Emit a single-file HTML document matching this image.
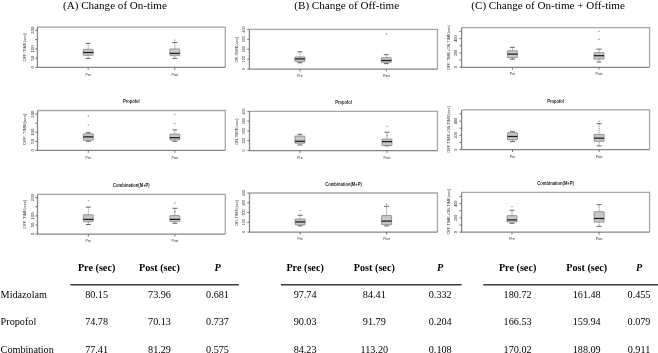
<!DOCTYPE html><html><head><meta charset="utf-8"><style>html,body{margin:0;padding:0;background:#fff;width:658px;height:353px;overflow:hidden}svg{display:block;will-change:transform}</style></head><body>
<svg width="658" height="353" viewBox="0 0 658 353">
<rect width="658" height="353" fill="#fff"/>
<text x="63.0" y="8.9" font-family='"Liberation Serif", serif' font-size="11.1" fill="#000">(A) Change of On-time</text>
<text x="294.3" y="8.9" font-family='"Liberation Serif", serif' font-size="11.1" fill="#000">(B) Change of Off-time</text>
<text x="471.3" y="8.9" font-family='"Liberation Serif", serif' font-size="11.1" fill="#000">(C) Change of On-time + Off-time</text>
<path d="M37.4 27.1H225.3V67.4" fill="none" stroke="#a6a6a6" stroke-width="1.3"/>
<path d="M37.4 27.1V67.4H225.3" fill="none" stroke="#858585" stroke-width="1.25"/>
<line x1="35.20" y1="67.40" x2="37.4" y2="67.40" stroke="#666" stroke-width="0.9"/>
<text transform="translate(32.10,67.40) rotate(-90)" text-anchor="middle" dominant-baseline="central" font-family='"Liberation Sans", sans-serif' font-size="4.3" fill="#2a2a2a">0</text>
<line x1="35.20" y1="58.13" x2="37.4" y2="58.13" stroke="#666" stroke-width="0.9"/>
<text transform="translate(32.10,58.13) rotate(-90)" text-anchor="middle" dominant-baseline="central" font-family='"Liberation Sans", sans-serif' font-size="4.3" fill="#2a2a2a">50</text>
<line x1="35.20" y1="48.85" x2="37.4" y2="48.85" stroke="#666" stroke-width="0.9"/>
<text transform="translate(32.10,48.85) rotate(-90)" text-anchor="middle" dominant-baseline="central" font-family='"Liberation Sans", sans-serif' font-size="4.3" fill="#2a2a2a">100</text>
<line x1="35.20" y1="39.58" x2="37.4" y2="39.58" stroke="#666" stroke-width="0.9"/>
<line x1="35.20" y1="30.30" x2="37.4" y2="30.30" stroke="#666" stroke-width="0.9"/>
<text transform="translate(32.10,30.30) rotate(-90)" text-anchor="middle" dominant-baseline="central" font-family='"Liberation Sans", sans-serif' font-size="4.3" fill="#2a2a2a">200</text>
<text transform="translate(24.90,47.30) rotate(-90)" text-anchor="middle" dominant-baseline="central" textLength="28.5" lengthAdjust="spacingAndGlyphs" font-family='"Liberation Sans", sans-serif' font-size="3.9" fill="#3a3a3a">OFF-TIME(sec)</text>
<line x1="88.2" y1="67.4" x2="88.2" y2="69.80" stroke="#666" stroke-width="0.9"/>
<text x="88.2" y="75.50" text-anchor="middle" textLength="5.4" lengthAdjust="spacingAndGlyphs" font-family='"Liberation Sans", sans-serif' font-size="4.2" fill="#2a2a2a">Pre</text>
<line x1="88.2" y1="43.4" x2="88.2" y2="49.3" stroke="#666" stroke-width="0.7" stroke-dasharray="1.3,0.7"/>
<line x1="88.2" y1="55.3" x2="88.2" y2="58.4" stroke="#666" stroke-width="0.7" stroke-dasharray="1.3,0.7"/>
<line x1="85.7" y1="43.4" x2="90.7" y2="43.4" stroke="#444" stroke-width="0.8"/>
<line x1="85.7" y1="58.4" x2="90.7" y2="58.4" stroke="#444" stroke-width="0.8"/>
<rect x="83.20" y="49.3" width="10.00" height="6.00" fill="#c8c8c8" stroke="#777" stroke-width="0.7" rx="0.5"/>
<line x1="83.20" y1="52.5" x2="93.20" y2="52.5" stroke="#1a1a1a" stroke-width="1.25"/>
<line x1="174.8" y1="67.4" x2="174.8" y2="69.80" stroke="#666" stroke-width="0.9"/>
<text x="174.8" y="75.50" text-anchor="middle" textLength="6.8" lengthAdjust="spacingAndGlyphs" font-family='"Liberation Sans", sans-serif' font-size="4.2" fill="#2a2a2a">Post</text>
<line x1="174.8" y1="42.5" x2="174.8" y2="48.9" stroke="#666" stroke-width="0.7" stroke-dasharray="1.3,0.7"/>
<line x1="174.8" y1="55.6" x2="174.8" y2="58.4" stroke="#666" stroke-width="0.7" stroke-dasharray="1.3,0.7"/>
<line x1="172.3" y1="42.5" x2="177.3" y2="42.5" stroke="#444" stroke-width="0.8"/>
<line x1="172.3" y1="58.4" x2="177.3" y2="58.4" stroke="#444" stroke-width="0.8"/>
<rect x="169.80" y="48.9" width="10.00" height="6.70" fill="#c8c8c8" stroke="#777" stroke-width="0.7" rx="0.5"/>
<line x1="169.80" y1="53.4" x2="179.80" y2="53.4" stroke="#1a1a1a" stroke-width="1.25"/>
<circle cx="174.8" cy="40.2" r="0.6" fill="#666"/>
<path d="M37.5 110.5H225.3V150.4" fill="none" stroke="#a6a6a6" stroke-width="1.3"/>
<path d="M37.5 110.5V150.4H225.3" fill="none" stroke="#858585" stroke-width="1.25"/>
<line x1="35.30" y1="150.40" x2="37.5" y2="150.40" stroke="#666" stroke-width="0.9"/>
<text transform="translate(32.10,150.40) rotate(-90)" text-anchor="middle" dominant-baseline="central" font-family='"Liberation Sans", sans-serif' font-size="4.3" fill="#2a2a2a">0</text>
<line x1="35.30" y1="141.33" x2="37.5" y2="141.33" stroke="#666" stroke-width="0.9"/>
<text transform="translate(32.10,141.33) rotate(-90)" text-anchor="middle" dominant-baseline="central" font-family='"Liberation Sans", sans-serif' font-size="4.3" fill="#2a2a2a">50</text>
<line x1="35.30" y1="132.25" x2="37.5" y2="132.25" stroke="#666" stroke-width="0.9"/>
<text transform="translate(32.10,132.25) rotate(-90)" text-anchor="middle" dominant-baseline="central" font-family='"Liberation Sans", sans-serif' font-size="4.3" fill="#2a2a2a">100</text>
<line x1="35.30" y1="123.18" x2="37.5" y2="123.18" stroke="#666" stroke-width="0.9"/>
<line x1="35.30" y1="114.10" x2="37.5" y2="114.10" stroke="#666" stroke-width="0.9"/>
<text transform="translate(32.10,114.10) rotate(-90)" text-anchor="middle" dominant-baseline="central" font-family='"Liberation Sans", sans-serif' font-size="4.3" fill="#2a2a2a">200</text>
<text transform="translate(24.90,129.20) rotate(-90)" text-anchor="middle" dominant-baseline="central" textLength="31.5" lengthAdjust="spacingAndGlyphs" font-family='"Liberation Sans", sans-serif' font-size="3.9" fill="#3a3a3a">OFF-TIME(sec)</text>
<line x1="88.3" y1="150.4" x2="88.3" y2="152.80" stroke="#666" stroke-width="0.9"/>
<text x="88.3" y="158.50" text-anchor="middle" textLength="5.4" lengthAdjust="spacingAndGlyphs" font-family='"Liberation Sans", sans-serif' font-size="4.2" fill="#2a2a2a">Pre</text>
<line x1="88.3" y1="132.7" x2="88.3" y2="133.8" stroke="#666" stroke-width="0.7" stroke-dasharray="1.3,0.7"/>
<line x1="88.3" y1="140.3" x2="88.3" y2="141.3" stroke="#666" stroke-width="0.7" stroke-dasharray="1.3,0.7"/>
<line x1="85.8" y1="132.7" x2="90.8" y2="132.7" stroke="#444" stroke-width="0.8"/>
<line x1="85.8" y1="141.3" x2="90.8" y2="141.3" stroke="#444" stroke-width="0.8"/>
<rect x="83.30" y="133.8" width="10.00" height="6.50" fill="#c8c8c8" stroke="#777" stroke-width="0.7" rx="0.5"/>
<line x1="83.30" y1="136.9" x2="93.30" y2="136.9" stroke="#1a1a1a" stroke-width="1.25"/>
<circle cx="88.3" cy="115.9" r="0.6" fill="#666"/>
<circle cx="88.3" cy="124.8" r="0.6" fill="#666"/>
<line x1="174.8" y1="150.4" x2="174.8" y2="152.80" stroke="#666" stroke-width="0.9"/>
<text x="174.8" y="158.50" text-anchor="middle" textLength="6.8" lengthAdjust="spacingAndGlyphs" font-family='"Liberation Sans", sans-serif' font-size="4.2" fill="#2a2a2a">Post</text>
<line x1="174.8" y1="129.9" x2="174.8" y2="134.1" stroke="#666" stroke-width="0.7" stroke-dasharray="1.3,0.7"/>
<line x1="174.8" y1="140.0" x2="174.8" y2="141.3" stroke="#666" stroke-width="0.7" stroke-dasharray="1.3,0.7"/>
<line x1="172.3" y1="129.9" x2="177.3" y2="129.9" stroke="#444" stroke-width="0.8"/>
<line x1="172.3" y1="141.3" x2="177.3" y2="141.3" stroke="#444" stroke-width="0.8"/>
<rect x="169.80" y="134.1" width="10.00" height="5.90" fill="#c8c8c8" stroke="#777" stroke-width="0.7" rx="0.5"/>
<line x1="169.80" y1="137.7" x2="179.80" y2="137.7" stroke="#1a1a1a" stroke-width="1.25"/>
<circle cx="174.8" cy="114.3" r="0.6" fill="#666"/>
<circle cx="174.8" cy="123.7" r="0.6" fill="#666"/>
<text x="131.40" y="103.40" text-anchor="middle" font-family='"Liberation Sans", sans-serif' font-weight="bold" font-size="4.7" textLength="16.6" lengthAdjust="spacingAndGlyphs" fill="#222">Propofol</text>
<path d="M37.5 194.4H225.3V234.1" fill="none" stroke="#a6a6a6" stroke-width="1.3"/>
<path d="M37.5 194.4V234.1H225.3" fill="none" stroke="#858585" stroke-width="1.25"/>
<line x1="35.30" y1="234.10" x2="37.5" y2="234.10" stroke="#666" stroke-width="0.9"/>
<text transform="translate(32.10,234.10) rotate(-90)" text-anchor="middle" dominant-baseline="central" font-family='"Liberation Sans", sans-serif' font-size="4.3" fill="#2a2a2a">0</text>
<line x1="35.30" y1="224.97" x2="37.5" y2="224.97" stroke="#666" stroke-width="0.9"/>
<text transform="translate(32.10,224.97) rotate(-90)" text-anchor="middle" dominant-baseline="central" font-family='"Liberation Sans", sans-serif' font-size="4.3" fill="#2a2a2a">50</text>
<line x1="35.30" y1="215.85" x2="37.5" y2="215.85" stroke="#666" stroke-width="0.9"/>
<text transform="translate(32.10,215.85) rotate(-90)" text-anchor="middle" dominant-baseline="central" font-family='"Liberation Sans", sans-serif' font-size="4.3" fill="#2a2a2a">100</text>
<line x1="35.30" y1="206.72" x2="37.5" y2="206.72" stroke="#666" stroke-width="0.9"/>
<line x1="35.30" y1="197.60" x2="37.5" y2="197.60" stroke="#666" stroke-width="0.9"/>
<text transform="translate(32.10,197.60) rotate(-90)" text-anchor="middle" dominant-baseline="central" font-family='"Liberation Sans", sans-serif' font-size="4.3" fill="#2a2a2a">200</text>
<text transform="translate(24.90,214.30) rotate(-90)" text-anchor="middle" dominant-baseline="central" textLength="29.0" lengthAdjust="spacingAndGlyphs" font-family='"Liberation Sans", sans-serif' font-size="3.9" fill="#3a3a3a">OFF-TIME(sec)</text>
<line x1="88.3" y1="234.1" x2="88.3" y2="236.50" stroke="#666" stroke-width="0.9"/>
<text x="88.3" y="242.20" text-anchor="middle" textLength="5.4" lengthAdjust="spacingAndGlyphs" font-family='"Liberation Sans", sans-serif' font-size="4.2" fill="#2a2a2a">Pre</text>
<line x1="88.3" y1="207.1" x2="88.3" y2="214.8" stroke="#666" stroke-width="0.7" stroke-dasharray="1.3,0.7"/>
<line x1="88.3" y1="221.6" x2="88.3" y2="224.5" stroke="#666" stroke-width="0.7" stroke-dasharray="1.3,0.7"/>
<line x1="85.8" y1="207.1" x2="90.8" y2="207.1" stroke="#444" stroke-width="0.8"/>
<line x1="85.8" y1="224.5" x2="90.8" y2="224.5" stroke="#444" stroke-width="0.8"/>
<rect x="83.30" y="214.8" width="10.00" height="6.80" fill="#c8c8c8" stroke="#777" stroke-width="0.7" rx="0.5"/>
<line x1="83.30" y1="219.4" x2="93.30" y2="219.4" stroke="#1a1a1a" stroke-width="1.25"/>
<circle cx="88.3" cy="200.8" r="0.6" fill="#666"/>
<line x1="174.9" y1="234.1" x2="174.9" y2="236.50" stroke="#666" stroke-width="0.9"/>
<text x="174.9" y="242.20" text-anchor="middle" textLength="6.8" lengthAdjust="spacingAndGlyphs" font-family='"Liberation Sans", sans-serif' font-size="4.2" fill="#2a2a2a">Post</text>
<line x1="174.9" y1="208.3" x2="174.9" y2="215.6" stroke="#666" stroke-width="0.7" stroke-dasharray="1.3,0.7"/>
<line x1="174.9" y1="221.6" x2="174.9" y2="223.3" stroke="#666" stroke-width="0.7" stroke-dasharray="1.3,0.7"/>
<line x1="172.4" y1="208.3" x2="177.4" y2="208.3" stroke="#444" stroke-width="0.8"/>
<line x1="172.4" y1="223.3" x2="177.4" y2="223.3" stroke="#444" stroke-width="0.8"/>
<rect x="169.90" y="215.6" width="10.00" height="6.00" fill="#c8c8c8" stroke="#777" stroke-width="0.7" rx="0.5"/>
<line x1="169.90" y1="219.4" x2="179.90" y2="219.4" stroke="#1a1a1a" stroke-width="1.25"/>
<circle cx="174.9" cy="202.9" r="0.6" fill="#666"/>
<circle cx="174.9" cy="211.7" r="0.6" fill="#666"/>
<text x="131.40" y="187.20" text-anchor="middle" font-family='"Liberation Sans", sans-serif' font-weight="bold" font-size="4.7" textLength="36.6" lengthAdjust="spacingAndGlyphs" fill="#222">Combination(M+P)</text>
<path d="M249.4 29.4H437.5V69.1" fill="none" stroke="#a6a6a6" stroke-width="1.3"/>
<path d="M249.4 29.4V69.1H437.5" fill="none" stroke="#858585" stroke-width="1.25"/>
<line x1="247.20" y1="69.10" x2="249.4" y2="69.10" stroke="#666" stroke-width="0.9"/>
<text transform="translate(243.80,69.10) rotate(-90)" text-anchor="middle" dominant-baseline="central" font-family='"Liberation Sans", sans-serif' font-size="3.6" fill="#2a2a2a">0</text>
<line x1="247.20" y1="59.17" x2="249.4" y2="59.17" stroke="#666" stroke-width="0.9"/>
<text transform="translate(243.80,59.17) rotate(-90)" text-anchor="middle" dominant-baseline="central" font-family='"Liberation Sans", sans-serif' font-size="3.6" fill="#2a2a2a">100</text>
<line x1="247.20" y1="49.24" x2="249.4" y2="49.24" stroke="#666" stroke-width="0.9"/>
<text transform="translate(243.80,49.24) rotate(-90)" text-anchor="middle" dominant-baseline="central" font-family='"Liberation Sans", sans-serif' font-size="3.6" fill="#2a2a2a">200</text>
<line x1="247.20" y1="39.31" x2="249.4" y2="39.31" stroke="#666" stroke-width="0.9"/>
<text transform="translate(243.80,39.31) rotate(-90)" text-anchor="middle" dominant-baseline="central" font-family='"Liberation Sans", sans-serif' font-size="3.6" fill="#2a2a2a">300</text>
<line x1="247.20" y1="29.38" x2="249.4" y2="29.38" stroke="#666" stroke-width="0.9"/>
<text transform="translate(243.80,29.38) rotate(-90)" text-anchor="middle" dominant-baseline="central" font-family='"Liberation Sans", sans-serif' font-size="3.6" fill="#2a2a2a">400</text>
<text transform="translate(236.50,49.60) rotate(-90)" text-anchor="middle" dominant-baseline="central" textLength="26.0" lengthAdjust="spacingAndGlyphs" font-family='"Liberation Sans", sans-serif' font-size="3.9" fill="#3a3a3a">ON-TIME(sec)</text>
<line x1="299.9" y1="69.1" x2="299.9" y2="71.50" stroke="#666" stroke-width="0.9"/>
<text x="299.9" y="77.20" text-anchor="middle" textLength="5.4" lengthAdjust="spacingAndGlyphs" font-family='"Liberation Sans", sans-serif' font-size="4.2" fill="#2a2a2a">Pre</text>
<line x1="299.9" y1="51.8" x2="299.9" y2="56.9" stroke="#666" stroke-width="0.7" stroke-dasharray="1.3,0.7"/>
<line x1="299.9" y1="61.6" x2="299.9" y2="62.8" stroke="#666" stroke-width="0.7" stroke-dasharray="1.3,0.7"/>
<line x1="297.4" y1="51.8" x2="302.4" y2="51.8" stroke="#444" stroke-width="0.8"/>
<line x1="297.4" y1="62.8" x2="302.4" y2="62.8" stroke="#444" stroke-width="0.8"/>
<rect x="294.90" y="56.9" width="10.00" height="4.70" fill="#c8c8c8" stroke="#777" stroke-width="0.7" rx="0.5"/>
<line x1="294.90" y1="58.9" x2="304.90" y2="58.9" stroke="#1a1a1a" stroke-width="1.25"/>
<line x1="386.3" y1="69.1" x2="386.3" y2="71.50" stroke="#666" stroke-width="0.9"/>
<text x="386.3" y="77.20" text-anchor="middle" textLength="6.8" lengthAdjust="spacingAndGlyphs" font-family='"Liberation Sans", sans-serif' font-size="4.2" fill="#2a2a2a">Post</text>
<line x1="386.3" y1="54.6" x2="386.3" y2="57.7" stroke="#666" stroke-width="0.7" stroke-dasharray="1.3,0.7"/>
<line x1="386.3" y1="62.4" x2="386.3" y2="63.6" stroke="#666" stroke-width="0.7" stroke-dasharray="1.3,0.7"/>
<line x1="383.8" y1="54.6" x2="388.8" y2="54.6" stroke="#444" stroke-width="0.8"/>
<line x1="383.8" y1="63.6" x2="388.8" y2="63.6" stroke="#444" stroke-width="0.8"/>
<rect x="381.30" y="57.7" width="10.00" height="4.70" fill="#c8c8c8" stroke="#777" stroke-width="0.7" rx="0.5"/>
<line x1="381.30" y1="60.5" x2="391.30" y2="60.5" stroke="#1a1a1a" stroke-width="1.25"/>
<circle cx="386.3" cy="33.9" r="0.6" fill="#666"/>
<path d="M249.5 111.4H437.5V150.5" fill="none" stroke="#a6a6a6" stroke-width="1.3"/>
<path d="M249.5 111.4V150.5H437.5" fill="none" stroke="#858585" stroke-width="1.25"/>
<line x1="247.30" y1="150.50" x2="249.5" y2="150.50" stroke="#666" stroke-width="0.9"/>
<text transform="translate(243.80,150.50) rotate(-90)" text-anchor="middle" dominant-baseline="central" font-family='"Liberation Sans", sans-serif' font-size="3.6" fill="#2a2a2a">0</text>
<line x1="247.30" y1="140.72" x2="249.5" y2="140.72" stroke="#666" stroke-width="0.9"/>
<text transform="translate(243.80,140.72) rotate(-90)" text-anchor="middle" dominant-baseline="central" font-family='"Liberation Sans", sans-serif' font-size="3.6" fill="#2a2a2a">100</text>
<line x1="247.30" y1="130.94" x2="249.5" y2="130.94" stroke="#666" stroke-width="0.9"/>
<text transform="translate(243.80,130.94) rotate(-90)" text-anchor="middle" dominant-baseline="central" font-family='"Liberation Sans", sans-serif' font-size="3.6" fill="#2a2a2a">200</text>
<line x1="247.30" y1="121.16" x2="249.5" y2="121.16" stroke="#666" stroke-width="0.9"/>
<text transform="translate(243.80,121.16) rotate(-90)" text-anchor="middle" dominant-baseline="central" font-family='"Liberation Sans", sans-serif' font-size="3.6" fill="#2a2a2a">300</text>
<line x1="247.30" y1="111.38" x2="249.5" y2="111.38" stroke="#666" stroke-width="0.9"/>
<text transform="translate(243.80,111.38) rotate(-90)" text-anchor="middle" dominant-baseline="central" font-family='"Liberation Sans", sans-serif' font-size="3.6" fill="#2a2a2a">400</text>
<text transform="translate(236.50,131.60) rotate(-90)" text-anchor="middle" dominant-baseline="central" textLength="26.5" lengthAdjust="spacingAndGlyphs" font-family='"Liberation Sans", sans-serif' font-size="3.9" fill="#3a3a3a">ON-TIME(sec)</text>
<line x1="299.9" y1="150.5" x2="299.9" y2="152.90" stroke="#666" stroke-width="0.9"/>
<text x="299.9" y="158.60" text-anchor="middle" textLength="5.4" lengthAdjust="spacingAndGlyphs" font-family='"Liberation Sans", sans-serif' font-size="4.2" fill="#2a2a2a">Pre</text>
<line x1="299.9" y1="134.3" x2="299.9" y2="136.0" stroke="#666" stroke-width="0.7" stroke-dasharray="1.3,0.7"/>
<line x1="299.9" y1="143.3" x2="299.9" y2="145.0" stroke="#666" stroke-width="0.7" stroke-dasharray="1.3,0.7"/>
<line x1="297.4" y1="134.3" x2="302.4" y2="134.3" stroke="#444" stroke-width="0.8"/>
<line x1="297.4" y1="145.0" x2="302.4" y2="145.0" stroke="#444" stroke-width="0.8"/>
<rect x="294.90" y="136.0" width="10.00" height="7.30" fill="#c8c8c8" stroke="#777" stroke-width="0.7" rx="0.5"/>
<line x1="294.90" y1="141.3" x2="304.90" y2="141.3" stroke="#1a1a1a" stroke-width="1.25"/>
<line x1="387.0" y1="150.5" x2="387.0" y2="152.90" stroke="#666" stroke-width="0.9"/>
<text x="387.0" y="158.60" text-anchor="middle" textLength="6.8" lengthAdjust="spacingAndGlyphs" font-family='"Liberation Sans", sans-serif' font-size="4.2" fill="#2a2a2a">Post</text>
<line x1="387.0" y1="132.2" x2="387.0" y2="139.0" stroke="#666" stroke-width="0.7" stroke-dasharray="1.3,0.7"/>
<line x1="387.0" y1="145.5" x2="387.0" y2="145.9" stroke="#666" stroke-width="0.7" stroke-dasharray="1.3,0.7"/>
<line x1="384.5" y1="132.2" x2="389.5" y2="132.2" stroke="#444" stroke-width="0.8"/>
<line x1="384.5" y1="145.9" x2="389.5" y2="145.9" stroke="#444" stroke-width="0.8"/>
<rect x="382.00" y="139.0" width="10.00" height="6.50" fill="#c8c8c8" stroke="#777" stroke-width="0.7" rx="0.5"/>
<line x1="382.00" y1="141.6" x2="392.00" y2="141.6" stroke="#1a1a1a" stroke-width="1.25"/>
<circle cx="387.0" cy="126.3" r="0.6" fill="#666"/>
<circle cx="387.0" cy="135.6" r="0.6" fill="#666"/>
<text x="343.50" y="104.30" text-anchor="middle" font-family='"Liberation Sans", sans-serif' font-weight="bold" font-size="4.7" textLength="16.6" lengthAdjust="spacingAndGlyphs" fill="#222">Propofol</text>
<path d="M249.5 193.0H437.5V232.1" fill="none" stroke="#a6a6a6" stroke-width="1.3"/>
<path d="M249.5 193.0V232.1H437.5" fill="none" stroke="#858585" stroke-width="1.25"/>
<line x1="247.30" y1="232.10" x2="249.5" y2="232.10" stroke="#666" stroke-width="0.9"/>
<text transform="translate(243.80,232.10) rotate(-90)" text-anchor="middle" dominant-baseline="central" font-family='"Liberation Sans", sans-serif' font-size="3.6" fill="#2a2a2a">0</text>
<line x1="247.30" y1="222.32" x2="249.5" y2="222.32" stroke="#666" stroke-width="0.9"/>
<text transform="translate(243.80,222.32) rotate(-90)" text-anchor="middle" dominant-baseline="central" font-family='"Liberation Sans", sans-serif' font-size="3.6" fill="#2a2a2a">100</text>
<line x1="247.30" y1="212.54" x2="249.5" y2="212.54" stroke="#666" stroke-width="0.9"/>
<text transform="translate(243.80,212.54) rotate(-90)" text-anchor="middle" dominant-baseline="central" font-family='"Liberation Sans", sans-serif' font-size="3.6" fill="#2a2a2a">200</text>
<line x1="247.30" y1="202.76" x2="249.5" y2="202.76" stroke="#666" stroke-width="0.9"/>
<text transform="translate(243.80,202.76) rotate(-90)" text-anchor="middle" dominant-baseline="central" font-family='"Liberation Sans", sans-serif' font-size="3.6" fill="#2a2a2a">300</text>
<line x1="247.30" y1="192.98" x2="249.5" y2="192.98" stroke="#666" stroke-width="0.9"/>
<text transform="translate(243.80,192.98) rotate(-90)" text-anchor="middle" dominant-baseline="central" font-family='"Liberation Sans", sans-serif' font-size="3.6" fill="#2a2a2a">400</text>
<text transform="translate(236.50,212.90) rotate(-90)" text-anchor="middle" dominant-baseline="central" textLength="26.0" lengthAdjust="spacingAndGlyphs" font-family='"Liberation Sans", sans-serif' font-size="3.9" fill="#3a3a3a">ON-TIME(sec)</text>
<line x1="300.2" y1="232.1" x2="300.2" y2="234.50" stroke="#666" stroke-width="0.9"/>
<text x="300.2" y="240.20" text-anchor="middle" textLength="5.4" lengthAdjust="spacingAndGlyphs" font-family='"Liberation Sans", sans-serif' font-size="4.2" fill="#2a2a2a">Pre</text>
<line x1="300.2" y1="215.3" x2="300.2" y2="219.0" stroke="#666" stroke-width="0.7" stroke-dasharray="1.3,0.7"/>
<line x1="300.2" y1="225.0" x2="300.2" y2="225.9" stroke="#666" stroke-width="0.7" stroke-dasharray="1.3,0.7"/>
<line x1="297.7" y1="215.3" x2="302.7" y2="215.3" stroke="#444" stroke-width="0.8"/>
<line x1="297.7" y1="225.9" x2="302.7" y2="225.9" stroke="#444" stroke-width="0.8"/>
<rect x="295.20" y="219.0" width="10.00" height="6.00" fill="#c8c8c8" stroke="#777" stroke-width="0.7" rx="0.5"/>
<line x1="295.20" y1="221.9" x2="305.20" y2="221.9" stroke="#1a1a1a" stroke-width="1.25"/>
<circle cx="300.2" cy="210.5" r="0.6" fill="#666"/>
<line x1="386.6" y1="232.1" x2="386.6" y2="234.50" stroke="#666" stroke-width="0.9"/>
<text x="386.6" y="240.20" text-anchor="middle" textLength="6.8" lengthAdjust="spacingAndGlyphs" font-family='"Liberation Sans", sans-serif' font-size="4.2" fill="#2a2a2a">Post</text>
<line x1="386.6" y1="206.3" x2="386.6" y2="215.6" stroke="#666" stroke-width="0.7" stroke-dasharray="1.3,0.7"/>
<line x1="386.6" y1="224.7" x2="386.6" y2="225.9" stroke="#666" stroke-width="0.7" stroke-dasharray="1.3,0.7"/>
<line x1="384.1" y1="206.3" x2="389.1" y2="206.3" stroke="#444" stroke-width="0.8"/>
<line x1="384.1" y1="225.9" x2="389.1" y2="225.9" stroke="#444" stroke-width="0.8"/>
<rect x="381.60" y="215.6" width="10.00" height="9.10" fill="#c8c8c8" stroke="#777" stroke-width="0.7" rx="0.5"/>
<line x1="381.60" y1="221.1" x2="391.60" y2="221.1" stroke="#1a1a1a" stroke-width="1.25"/>
<circle cx="386.6" cy="204.2" r="0.6" fill="#666"/>
<text x="343.50" y="185.80" text-anchor="middle" font-family='"Liberation Sans", sans-serif' font-weight="bold" font-size="4.7" textLength="36.6" lengthAdjust="spacingAndGlyphs" fill="#222">Combination(M+P)</text>
<path d="M461.6 27.6H649.6V67.3" fill="none" stroke="#a6a6a6" stroke-width="1.3"/>
<path d="M461.6 27.6V67.3H649.6" fill="none" stroke="#858585" stroke-width="1.25"/>
<line x1="459.40" y1="67.30" x2="461.6" y2="67.30" stroke="#666" stroke-width="0.9"/>
<text transform="translate(456.20,67.30) rotate(-90)" text-anchor="middle" dominant-baseline="central" font-family='"Liberation Sans", sans-serif' font-size="3.8" fill="#2a2a2a">0</text>
<line x1="459.40" y1="60.12" x2="461.6" y2="60.12" stroke="#666" stroke-width="0.9"/>
<line x1="459.40" y1="52.94" x2="461.6" y2="52.94" stroke="#666" stroke-width="0.9"/>
<text transform="translate(456.20,52.94) rotate(-90)" text-anchor="middle" dominant-baseline="central" font-family='"Liberation Sans", sans-serif' font-size="3.8" fill="#2a2a2a">200</text>
<line x1="459.40" y1="45.76" x2="461.6" y2="45.76" stroke="#666" stroke-width="0.9"/>
<line x1="459.40" y1="38.58" x2="461.6" y2="38.58" stroke="#666" stroke-width="0.9"/>
<text transform="translate(456.20,38.58) rotate(-90)" text-anchor="middle" dominant-baseline="central" font-family='"Liberation Sans", sans-serif' font-size="3.8" fill="#2a2a2a">400</text>
<line x1="459.40" y1="31.40" x2="461.6" y2="31.40" stroke="#666" stroke-width="0.9"/>
<text transform="translate(448.10,47.40) rotate(-90)" text-anchor="middle" dominant-baseline="central" textLength="45.5" lengthAdjust="spacingAndGlyphs" font-family='"Liberation Sans", sans-serif' font-size="3.9" fill="#3a3a3a">OFF-TIME+ON-TIME(sec)</text>
<line x1="512.4" y1="67.3" x2="512.4" y2="69.70" stroke="#666" stroke-width="0.9"/>
<text x="512.4" y="75.40" text-anchor="middle" textLength="5.4" lengthAdjust="spacingAndGlyphs" font-family='"Liberation Sans", sans-serif' font-size="4.2" fill="#2a2a2a">Pre</text>
<line x1="512.4" y1="47.3" x2="512.4" y2="50.7" stroke="#666" stroke-width="0.7" stroke-dasharray="1.3,0.7"/>
<line x1="512.4" y1="57.7" x2="512.4" y2="59.2" stroke="#666" stroke-width="0.7" stroke-dasharray="1.3,0.7"/>
<line x1="509.9" y1="47.3" x2="514.9" y2="47.3" stroke="#444" stroke-width="0.8"/>
<line x1="509.9" y1="59.2" x2="514.9" y2="59.2" stroke="#444" stroke-width="0.8"/>
<rect x="507.40" y="50.7" width="10.00" height="7.00" fill="#c8c8c8" stroke="#777" stroke-width="0.7" rx="0.5"/>
<line x1="507.40" y1="54.1" x2="517.40" y2="54.1" stroke="#1a1a1a" stroke-width="1.25"/>
<line x1="599.0" y1="67.3" x2="599.0" y2="69.70" stroke="#666" stroke-width="0.9"/>
<text x="599.0" y="75.40" text-anchor="middle" textLength="6.8" lengthAdjust="spacingAndGlyphs" font-family='"Liberation Sans", sans-serif' font-size="4.2" fill="#2a2a2a">Post</text>
<line x1="599.0" y1="49.1" x2="599.0" y2="52.7" stroke="#666" stroke-width="0.7" stroke-dasharray="1.3,0.7"/>
<line x1="599.0" y1="59.2" x2="599.0" y2="62.0" stroke="#666" stroke-width="0.7" stroke-dasharray="1.3,0.7"/>
<line x1="596.5" y1="49.1" x2="601.5" y2="49.1" stroke="#444" stroke-width="0.8"/>
<line x1="596.5" y1="62.0" x2="601.5" y2="62.0" stroke="#444" stroke-width="0.8"/>
<rect x="594.00" y="52.7" width="10.00" height="6.50" fill="#c8c8c8" stroke="#777" stroke-width="0.7" rx="0.5"/>
<line x1="594.00" y1="55.7" x2="604.00" y2="55.7" stroke="#1a1a1a" stroke-width="1.25"/>
<circle cx="599.0" cy="31.2" r="0.6" fill="#666"/>
<circle cx="599.0" cy="39.3" r="0.6" fill="#666"/>
<path d="M461.6 109.9H649.6V149.6" fill="none" stroke="#a6a6a6" stroke-width="1.3"/>
<path d="M461.6 109.9V149.6H649.6" fill="none" stroke="#858585" stroke-width="1.25"/>
<line x1="459.40" y1="149.60" x2="461.6" y2="149.60" stroke="#666" stroke-width="0.9"/>
<text transform="translate(456.20,149.60) rotate(-90)" text-anchor="middle" dominant-baseline="central" font-family='"Liberation Sans", sans-serif' font-size="3.8" fill="#2a2a2a">0</text>
<line x1="459.40" y1="142.47" x2="461.6" y2="142.47" stroke="#666" stroke-width="0.9"/>
<line x1="459.40" y1="135.34" x2="461.6" y2="135.34" stroke="#666" stroke-width="0.9"/>
<text transform="translate(456.20,135.34) rotate(-90)" text-anchor="middle" dominant-baseline="central" font-family='"Liberation Sans", sans-serif' font-size="3.8" fill="#2a2a2a">200</text>
<line x1="459.40" y1="128.21" x2="461.6" y2="128.21" stroke="#666" stroke-width="0.9"/>
<line x1="459.40" y1="121.08" x2="461.6" y2="121.08" stroke="#666" stroke-width="0.9"/>
<text transform="translate(456.20,121.08) rotate(-90)" text-anchor="middle" dominant-baseline="central" font-family='"Liberation Sans", sans-serif' font-size="3.8" fill="#2a2a2a">400</text>
<line x1="459.40" y1="113.95" x2="461.6" y2="113.95" stroke="#666" stroke-width="0.9"/>
<text transform="translate(448.10,129.40) rotate(-90)" text-anchor="middle" dominant-baseline="central" textLength="46.5" lengthAdjust="spacingAndGlyphs" font-family='"Liberation Sans", sans-serif' font-size="3.9" fill="#3a3a3a">OFF-TIME+ON-TIME(sec)</text>
<line x1="512.5" y1="149.6" x2="512.5" y2="152.00" stroke="#666" stroke-width="0.9"/>
<text x="512.5" y="157.70" text-anchor="middle" textLength="5.4" lengthAdjust="spacingAndGlyphs" font-family='"Liberation Sans", sans-serif' font-size="4.2" fill="#2a2a2a">Pre</text>
<line x1="512.5" y1="131.7" x2="512.5" y2="132.7" stroke="#666" stroke-width="0.7" stroke-dasharray="1.3,0.7"/>
<line x1="512.5" y1="139.9" x2="512.5" y2="141.6" stroke="#666" stroke-width="0.7" stroke-dasharray="1.3,0.7"/>
<line x1="510.0" y1="131.7" x2="515.0" y2="131.7" stroke="#444" stroke-width="0.8"/>
<line x1="510.0" y1="141.6" x2="515.0" y2="141.6" stroke="#444" stroke-width="0.8"/>
<rect x="507.50" y="132.7" width="10.00" height="7.20" fill="#c8c8c8" stroke="#777" stroke-width="0.7" rx="0.5"/>
<line x1="507.50" y1="136.5" x2="517.50" y2="136.5" stroke="#1a1a1a" stroke-width="1.25"/>
<line x1="599.1" y1="149.6" x2="599.1" y2="152.00" stroke="#666" stroke-width="0.9"/>
<text x="599.1" y="157.70" text-anchor="middle" textLength="6.8" lengthAdjust="spacingAndGlyphs" font-family='"Liberation Sans", sans-serif' font-size="4.2" fill="#2a2a2a">Post</text>
<line x1="599.1" y1="123.7" x2="599.1" y2="134.3" stroke="#666" stroke-width="0.7" stroke-dasharray="1.3,0.7"/>
<line x1="599.1" y1="141.3" x2="599.1" y2="145.9" stroke="#666" stroke-width="0.7" stroke-dasharray="1.3,0.7"/>
<line x1="596.6" y1="123.7" x2="601.6" y2="123.7" stroke="#444" stroke-width="0.8"/>
<line x1="596.6" y1="145.9" x2="601.6" y2="145.9" stroke="#444" stroke-width="0.8"/>
<rect x="594.10" y="134.3" width="10.00" height="7.00" fill="#c8c8c8" stroke="#777" stroke-width="0.7" rx="0.5"/>
<line x1="594.10" y1="138.2" x2="604.10" y2="138.2" stroke="#1a1a1a" stroke-width="1.25"/>
<circle cx="599.1" cy="121.2" r="0.6" fill="#666"/>
<text x="555.60" y="102.80" text-anchor="middle" font-family='"Liberation Sans", sans-serif' font-weight="bold" font-size="4.7" textLength="16.6" lengthAdjust="spacingAndGlyphs" fill="#222">Propofol</text>
<path d="M461.6 192.4H649.6V232.1" fill="none" stroke="#a6a6a6" stroke-width="1.3"/>
<path d="M461.6 192.4V232.1H649.6" fill="none" stroke="#858585" stroke-width="1.25"/>
<line x1="459.40" y1="232.10" x2="461.6" y2="232.10" stroke="#666" stroke-width="0.9"/>
<text transform="translate(456.20,232.10) rotate(-90)" text-anchor="middle" dominant-baseline="central" font-family='"Liberation Sans", sans-serif' font-size="3.8" fill="#2a2a2a">0</text>
<line x1="459.40" y1="225.00" x2="461.6" y2="225.00" stroke="#666" stroke-width="0.9"/>
<line x1="459.40" y1="217.90" x2="461.6" y2="217.90" stroke="#666" stroke-width="0.9"/>
<text transform="translate(456.20,217.90) rotate(-90)" text-anchor="middle" dominant-baseline="central" font-family='"Liberation Sans", sans-serif' font-size="3.8" fill="#2a2a2a">200</text>
<line x1="459.40" y1="210.80" x2="461.6" y2="210.80" stroke="#666" stroke-width="0.9"/>
<line x1="459.40" y1="203.70" x2="461.6" y2="203.70" stroke="#666" stroke-width="0.9"/>
<text transform="translate(456.20,203.70) rotate(-90)" text-anchor="middle" dominant-baseline="central" font-family='"Liberation Sans", sans-serif' font-size="3.8" fill="#2a2a2a">400</text>
<line x1="459.40" y1="196.60" x2="461.6" y2="196.60" stroke="#666" stroke-width="0.9"/>
<text transform="translate(448.10,211.60) rotate(-90)" text-anchor="middle" dominant-baseline="central" textLength="46.0" lengthAdjust="spacingAndGlyphs" font-family='"Liberation Sans", sans-serif' font-size="3.9" fill="#3a3a3a">OFF-TIME+ON-TIME(sec)</text>
<line x1="512.0" y1="232.1" x2="512.0" y2="234.50" stroke="#666" stroke-width="0.9"/>
<text x="512.0" y="240.20" text-anchor="middle" textLength="5.4" lengthAdjust="spacingAndGlyphs" font-family='"Liberation Sans", sans-serif' font-size="4.2" fill="#2a2a2a">Pre</text>
<line x1="512.0" y1="210.2" x2="512.0" y2="215.6" stroke="#666" stroke-width="0.7" stroke-dasharray="1.3,0.7"/>
<line x1="512.0" y1="222.1" x2="512.0" y2="223.3" stroke="#666" stroke-width="0.7" stroke-dasharray="1.3,0.7"/>
<line x1="509.5" y1="210.2" x2="514.5" y2="210.2" stroke="#444" stroke-width="0.8"/>
<line x1="509.5" y1="223.3" x2="514.5" y2="223.3" stroke="#444" stroke-width="0.8"/>
<rect x="507.00" y="215.6" width="10.00" height="6.50" fill="#c8c8c8" stroke="#777" stroke-width="0.7" rx="0.5"/>
<line x1="507.00" y1="219.9" x2="517.00" y2="219.9" stroke="#1a1a1a" stroke-width="1.25"/>
<circle cx="512.0" cy="206.6" r="0.6" fill="#666"/>
<line x1="599.1" y1="232.1" x2="599.1" y2="234.50" stroke="#666" stroke-width="0.9"/>
<text x="599.1" y="240.20" text-anchor="middle" textLength="6.8" lengthAdjust="spacingAndGlyphs" font-family='"Liberation Sans", sans-serif' font-size="4.2" fill="#2a2a2a">Post</text>
<line x1="599.1" y1="204.6" x2="599.1" y2="211.7" stroke="#666" stroke-width="0.7" stroke-dasharray="1.3,0.7"/>
<line x1="599.1" y1="222.1" x2="599.1" y2="226.4" stroke="#666" stroke-width="0.7" stroke-dasharray="1.3,0.7"/>
<line x1="596.6" y1="204.6" x2="601.6" y2="204.6" stroke="#444" stroke-width="0.8"/>
<line x1="596.6" y1="226.4" x2="601.6" y2="226.4" stroke="#444" stroke-width="0.8"/>
<rect x="594.10" y="211.7" width="10.00" height="10.40" fill="#c8c8c8" stroke="#777" stroke-width="0.7" rx="0.5"/>
<line x1="594.10" y1="218.5" x2="604.10" y2="218.5" stroke="#1a1a1a" stroke-width="1.25"/>
<text x="555.60" y="185.20" text-anchor="middle" font-family='"Liberation Sans", sans-serif' font-weight="bold" font-size="4.7" textLength="36.6" lengthAdjust="spacingAndGlyphs" fill="#222">Combination(M+P)</text>
<line x1="70.3" y1="284.7" x2="238.8" y2="284.7" stroke="#3a3a3a" stroke-width="1.5"/>
<text x="96.6" y="271.0" text-anchor="middle" font-family='"Liberation Serif", serif' font-weight="bold"  font-size="10.2" fill="#000">Pre (sec)</text>
<text x="159.5" y="271.0" text-anchor="middle" font-family='"Liberation Serif", serif' font-weight="bold"  font-size="10.2" fill="#000">Post (sec)</text>
<text x="217.5" y="271.0" text-anchor="middle" font-family='"Liberation Serif", serif' font-weight="bold" font-style="italic" font-size="10.2" fill="#000">P</text>
<text x="96.6" y="298.0" text-anchor="middle" font-family='"Liberation Serif", serif' font-size="10.2" fill="#000">80.15</text>
<text x="159.5" y="298.0" text-anchor="middle" font-family='"Liberation Serif", serif' font-size="10.2" fill="#000">73.96</text>
<text x="217.5" y="298.0" text-anchor="middle" font-family='"Liberation Serif", serif' font-size="10.2" fill="#000">0.681</text>
<text x="96.6" y="325.4" text-anchor="middle" font-family='"Liberation Serif", serif' font-size="10.2" fill="#000">74.78</text>
<text x="159.5" y="325.4" text-anchor="middle" font-family='"Liberation Serif", serif' font-size="10.2" fill="#000">70.13</text>
<text x="217.5" y="325.4" text-anchor="middle" font-family='"Liberation Serif", serif' font-size="10.2" fill="#000">0.737</text>
<text x="96.6" y="352.7" text-anchor="middle" font-family='"Liberation Serif", serif' font-size="10.2" fill="#000">77.41</text>
<text x="159.5" y="352.7" text-anchor="middle" font-family='"Liberation Serif", serif' font-size="10.2" fill="#000">81.29</text>
<text x="217.5" y="352.7" text-anchor="middle" font-family='"Liberation Serif", serif' font-size="10.2" fill="#000">0.575</text>
<line x1="281.0" y1="284.7" x2="461.6" y2="284.7" stroke="#3a3a3a" stroke-width="1.5"/>
<text x="305.1" y="271.0" text-anchor="middle" font-family='"Liberation Serif", serif' font-weight="bold"  font-size="10.2" fill="#000">Pre (sec)</text>
<text x="374.3" y="271.0" text-anchor="middle" font-family='"Liberation Serif", serif' font-weight="bold"  font-size="10.2" fill="#000">Post (sec)</text>
<text x="440.2" y="271.0" text-anchor="middle" font-family='"Liberation Serif", serif' font-weight="bold" font-style="italic" font-size="10.2" fill="#000">P</text>
<text x="305.1" y="298.0" text-anchor="middle" font-family='"Liberation Serif", serif' font-size="10.2" fill="#000">97.74</text>
<text x="374.3" y="298.0" text-anchor="middle" font-family='"Liberation Serif", serif' font-size="10.2" fill="#000">84.41</text>
<text x="440.2" y="298.0" text-anchor="middle" font-family='"Liberation Serif", serif' font-size="10.2" fill="#000">0.332</text>
<text x="305.1" y="325.4" text-anchor="middle" font-family='"Liberation Serif", serif' font-size="10.2" fill="#000">90.03</text>
<text x="374.3" y="325.4" text-anchor="middle" font-family='"Liberation Serif", serif' font-size="10.2" fill="#000">91.79</text>
<text x="440.2" y="325.4" text-anchor="middle" font-family='"Liberation Serif", serif' font-size="10.2" fill="#000">0.204</text>
<text x="305.1" y="352.7" text-anchor="middle" font-family='"Liberation Serif", serif' font-size="10.2" fill="#000">84.23</text>
<text x="374.3" y="352.7" text-anchor="middle" font-family='"Liberation Serif", serif' font-size="10.2" fill="#000">113.20</text>
<text x="440.2" y="352.7" text-anchor="middle" font-family='"Liberation Serif", serif' font-size="10.2" fill="#000">0.108</text>
<line x1="483.3" y1="284.7" x2="658.0" y2="284.7" stroke="#3a3a3a" stroke-width="1.5"/>
<text x="517.6" y="271.0" text-anchor="middle" font-family='"Liberation Serif", serif' font-weight="bold"  font-size="10.2" fill="#000">Pre (sec)</text>
<text x="586.7" y="271.0" text-anchor="middle" font-family='"Liberation Serif", serif' font-weight="bold"  font-size="10.2" fill="#000">Post (sec)</text>
<text x="639.0" y="271.0" text-anchor="middle" font-family='"Liberation Serif", serif' font-weight="bold" font-style="italic" font-size="10.2" fill="#000">P</text>
<text x="517.6" y="298.0" text-anchor="middle" font-family='"Liberation Serif", serif' font-size="10.2" fill="#000">180.72</text>
<text x="586.7" y="298.0" text-anchor="middle" font-family='"Liberation Serif", serif' font-size="10.2" fill="#000">161.48</text>
<text x="639.0" y="298.0" text-anchor="middle" font-family='"Liberation Serif", serif' font-size="10.2" fill="#000">0.455</text>
<text x="517.6" y="325.4" text-anchor="middle" font-family='"Liberation Serif", serif' font-size="10.2" fill="#000">166.53</text>
<text x="586.7" y="325.4" text-anchor="middle" font-family='"Liberation Serif", serif' font-size="10.2" fill="#000">159.94</text>
<text x="639.0" y="325.4" text-anchor="middle" font-family='"Liberation Serif", serif' font-size="10.2" fill="#000">0.079</text>
<text x="517.6" y="352.7" text-anchor="middle" font-family='"Liberation Serif", serif' font-size="10.2" fill="#000">170.02</text>
<text x="586.7" y="352.7" text-anchor="middle" font-family='"Liberation Serif", serif' font-size="10.2" fill="#000">188.09</text>
<text x="639.0" y="352.7" text-anchor="middle" font-family='"Liberation Serif", serif' font-size="10.2" fill="#000">0.911</text>
<text x="0.6" y="298.0" font-family='"Liberation Serif", serif' font-size="10.2" fill="#000">Midazolam</text>
<text x="0.6" y="325.4" font-family='"Liberation Serif", serif' font-size="10.2" fill="#000">Propofol</text>
<text x="0.6" y="352.7" font-family='"Liberation Serif", serif' font-size="10.2" fill="#000">Combination</text>
</svg></body></html>
